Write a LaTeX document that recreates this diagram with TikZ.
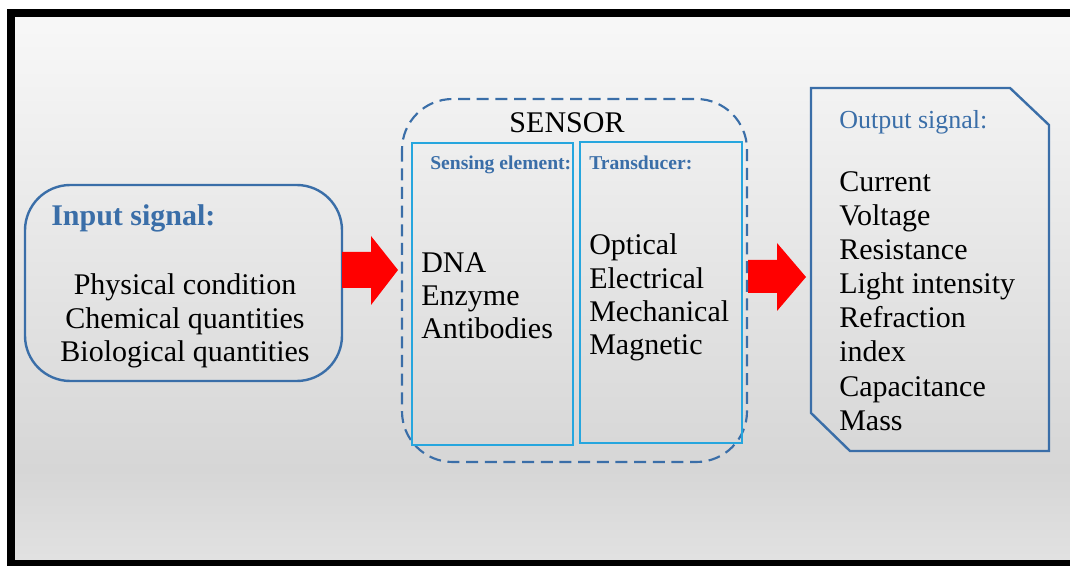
\documentclass[tikz,border=0pt]{standalone}
\usepackage{fontspec}
\setmainfont{Liberation Serif}
\usetikzlibrary{positioning}
\usetikzlibrary{calc}

\definecolor{sigblue}{RGB}{58,110,168}
\definecolor{boxcyan}{RGB}{38,166,222}

\begin{document}
\begin{tikzpicture}[x=0.75pt, y=-0.75pt,
    every node/.style={inner sep=0pt, font=\fontsize{22.5}{25.5}\selectfont},
    bluebox/.style={draw=sigblue, line width=1.8pt},
    cyanbox/.style={draw=boxcyan, line width=2.1pt},
    titletext/.style={text=sigblue, font=\fontsize{22.5}{25.5}\selectfont\bfseries},
    subtitle/.style={text=sigblue, font=\fontsize{14.7}{18}\selectfont\bfseries},
    item/.style={anchor=base west}]

        % Page size and background
        \useasboundingbox (0,0) rectangle (1070,566);
        \fill[white] (0,0) rectangle (1070,566);
        \shade[top color={rgb,255:red,248;green,248;blue,248}, bottom color={rgb,255:red,214;green,214;blue,214}]
          (11,13) rectangle (1075,470);
        \shade[top color={rgb,255:red,214;green,214;blue,214}, bottom color={rgb,255:red,226;green,226;blue,226}]
          (11,469.5) rectangle (1075,566);

        % Black frame
        \draw[line width=6pt] (1080,13) -- (11,13) -- (11,564) -- (1080,564);

        % Line spacing
        \def\lskip{34}

        % Input signal box
        \draw[bluebox, rounded corners=34pt] (25,185) rectangle (342,381);
        \node[titletext, anchor=base west] (intitle) at (51,226) {Input signal:};
        \foreach \t [count=\i] in {Physical condition, Chemical quantities, Biological quantities} {
          \node[anchor=base] (in\i) at (185, {295+33.5*(\i-1)}) {\t};
        }

        % Red arrows
        \fill[red] (342,252) -- (371,252) -- (371,236) -- (398,270) -- (371,305) -- (371,288) -- (342,288) -- cycle;
        \fill[red] (748,260) -- (777,260) -- (777,243) -- (806,277) -- (777,311) -- (777,293) -- (748,293) -- cycle;

        % Sensor
        \draw[draw=sigblue, line width=1.6pt, dash pattern=on 9pt off 5pt, rounded corners=38pt] (402,99) rectangle (747,462);
        \node[anchor=base] (sensor) at (567,133) {SENSOR};

        % Sensing element
        \draw[cyanbox] (412,143) rectangle (573,445);
        \node[subtitle, anchor=base west] (elemtitle) at (430,170) {Sensing element:};
        \foreach \t [count=\i] in {DNA, Enzyme, Antibodies} {
          \node[item] (elem\i) at (421, {273+33*(\i-1)}) {\t};
        }

        % Transducer
        \draw[cyanbox] (580,142) rectangle (742,443);
        \node[subtitle, anchor=base west] (transtitle) at (589,170) {Transducer:};
        \foreach \t [count=\i] in {Optical, Electrical, Mechanical, Magnetic} {
          \node[item] (trans\i) at (589, {255+33.3*(\i-1)}) {\t};
        }

        % Output signal box
        \draw[bluebox] (811,88) -- (1010,88) -- (1049,125) -- (1049,451) -- (850,451) -- (811,413) -- cycle;
        \node[text=sigblue, font=\fontsize{19.5}{22}\selectfont, anchor=base west] (outtitle) at (839,129) {Output signal:};
        \foreach \t [count=\i] in {Current, Voltage, Resistance, Light intensity, Refraction, index, Capacitance, Mass} {
          \node[item] (out\i) at (839, {192+\lskip*(\i-1)}) {\t};
        }

      \end{tikzpicture}
\end{document}
